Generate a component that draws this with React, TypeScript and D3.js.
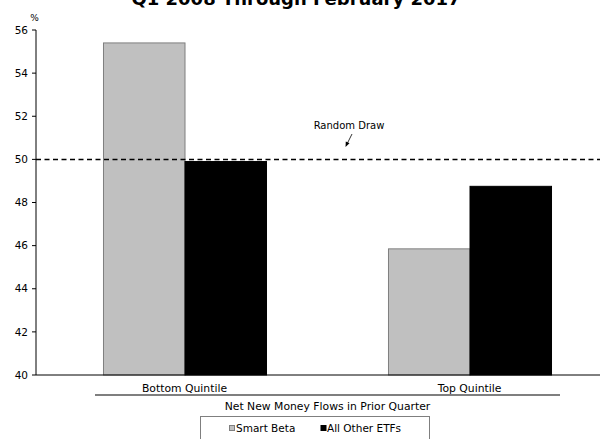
import React from "react";
import * as d3 from "d3";

const categories = ["Bottom Quintile", "Top Quintile"];
const seriesNames = ["Smart Beta", "All Other ETFs"];
const smartBeta = [55.4, 45.85];
const allOther = [49.9, 48.75];
const yTicks = [40, 42, 44, 46, 48, 50, 52, 54, 56];
const randomDraw = 50;

const W = 610;
const H = 439;
const FONT = "'DejaVu Sans', Verdana, sans-serif";
const colors = ["#c0c0c0", "#000000"];

export default function App() {
  const y = d3.scaleLinear().domain([40, 56]).range([375, 30]);
  const x0 = d3
    .scaleBand<string>()
    .domain(categories)
    .range([42, 612])
    .paddingInner(0.428)
    .paddingOuter(0.214);
  const x1 = d3.scaleBand<string>().domain(seriesNames).range([0, x0.bandwidth()]);
  const values = [smartBeta, allOther];
  const axisX = 36;
  const right = 600;

  return (
    <svg width={W} height={H} style={{ position: "absolute", left: 0, top: 0 }} fontFamily={FONT}>
      <text x={296} y={5} textAnchor="middle" fontSize={18} fontWeight="bold">
        Q1 2008 Through February 2017
      </text>
      <text x={34.5} y={18} dy="0.35em" textAnchor="middle" fontSize={9}>%</text>
      {yTicks.map((t) => (
        <g key={t}>
          <line x1={axisX - 4} x2={axisX} y1={y(t)} y2={y(t)} stroke="#000" />
          <text x={28} y={y(t)} dy="0.35em" textAnchor="end" fontSize={10.5}>
            {t}
          </text>
        </g>
      ))}
      {categories.map((c, i) => (
        <g key={c}>
          {seriesNames.map((s, j) => {
            const bx = (x0(c) ?? 0) + (x1(s) ?? 0);
            const v = values[j][i];
            return (
              <rect
                key={s}
                x={bx + 0.5}
                y={y(v)}
                width={x1.bandwidth()}
                height={y(40) - y(v)}
                fill={colors[j]}
                stroke={j === 0 ? "#7f7f7f" : "#000"}
                strokeWidth={1}
              />
            );
          })}
          <text
            x={(x0(c) ?? 0) + x0.bandwidth() / 2}
            y={388}
            dy="0.35em"
            textAnchor="middle"
            fontSize={10.8}
          >
            {c}
          </text>
        </g>
      ))}
      <line x1={axisX} x2={axisX} y1={y(56)} y2={y(40)} stroke="#000" />
      <line x1={axisX} x2={right} y1={y(40)} y2={y(40)} stroke="#000" />
      <line
        x1={axisX}
        x2={right}
        y1={y(randomDraw)}
        y2={y(randomDraw)}
        stroke="#000"
        strokeWidth={1.5}
        strokeDasharray="5,3.5"
      />
      <text x={349} y={125} dy="0.35em" textAnchor="middle" fontSize={10}>
        Random Draw
      </text>
      <line x1={352} x2={347.5} y1={134} y2={143} stroke="#000" strokeWidth={0.8} />
      <path d="M345.5,147 L345.8,141.5 L349.5,143.3 Z" fill="#000" />
      <line x1={95} x2={560} y1={395} y2={395} stroke="#000" strokeWidth={1.2} />
      <text x={327.5} y={406} dy="0.35em" textAnchor="middle" fontSize={10.8}>
        Net New Money Flows in Prior Quarter
      </text>
      <rect x={200.5} y={416.5} width={229} height={30} fill="#fff" stroke="#7f7f7f" />
      <rect x={229.5} y={425.5} width={5} height={5} fill={colors[0]} stroke="#7f7f7f" />
      <text x={236} y={428} dy="0.35em" fontSize={10.5}>{seriesNames[0]}</text>
      <rect x={320.5} y={425} width={6} height={6} fill={colors[1]} />
      <text x={327} y={428} dy="0.35em" fontSize={10.5}>{seriesNames[1]}</text>
    </svg>
  );
}
